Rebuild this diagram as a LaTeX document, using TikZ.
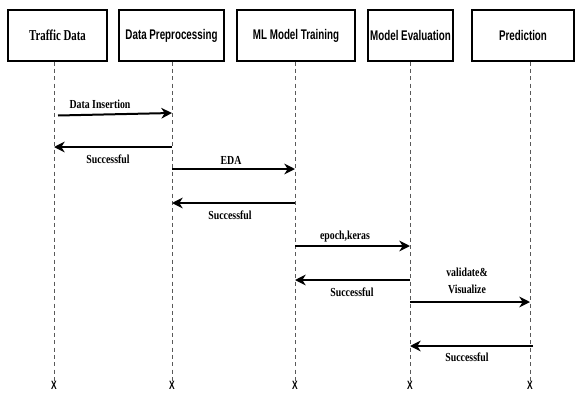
\documentclass[tikz,border=0pt]{standalone}
\usepackage{fontspec}
\setmainfont{Liberation Serif}
\newfontfamily\headfont[FakeStretch=0.7]{Liberation Sans}
\newfontfamily\headserif[FakeStretch=0.72]{Liberation Serif}
\newfontfamily\msgfont[FakeStretch=0.8]{Liberation Serif}
\usetikzlibrary{arrows.meta}
\definecolor{lifegray}{rgb}{0.35,0.35,0.35}
\begin{document}
\begin{tikzpicture}[line cap=butt,line join=miter,x=0.75pt,y=-0.75pt,
  actor/.style={draw,line width=1.1pt,minimum height=38pt,inner sep=0pt,font=\headfont\bfseries\fontsize{10.5}{12}\selectfont},
  life/.style={draw=lifegray,line width=0.5pt,dash pattern=on 3pt off 2.5pt},
  msg/.style={line width=1.5pt,-{Stealth[length=8pt,width=8pt,inset=2.5pt]}},
  msglabel/.style={font=\msgfont\bfseries\fontsize{9.2}{10.5}\selectfont,inner sep=0pt},
  endmark/.style={font=\headfont\bfseries\fontsize{9}{10}\selectfont,inner sep=0pt}]
\useasboundingbox (0,0) rectangle (575,393);
% actors
\node[actor,minimum width=74pt] (td) at (57.5,35.5) {\headserif\bfseries\fontsize{11.3}{13}\selectfont Traffic Data};
\node[actor,minimum width=78.5pt] (dp) at (171.5,35.5) {Data Preprocessing};
\node[actor,minimum width=88.5pt] (mt) at (296,35.5) {ML Model Training};
\node[actor,minimum width=63.5pt] (me) at (410.5,35.5) {Model Evaluation};
\node[actor,minimum width=76.5pt] (pr) at (523,35.5) {Prediction};
% end marks
\node[endmark] (x1) at (54,385) {X};
\node[endmark] (x2) at (172,385) {X};
\node[endmark] (x3) at (295,385) {X};
\node[endmark] (x4) at (410,385) {X};
\node[endmark] (x5) at (530,385) {X};
% lifelines
\draw[life] (x1 |- td.south) -- (x1.north);
\draw[life] (x2 |- dp.south) -- (x2.north);
\draw[life] (x3 |- mt.south) -- (x3.north);
\draw[life] (x4 |- me.south) -- (x4.north);
\draw[life] (x5 |- pr.south) -- (x5.north);
% messages
\coordinate (s1) at (58,115.5);
\coordinate (e1) at (172,113);
\draw[msg] (s1) -- (e1);
\node[msglabel] (l1) at (100,104) {Data Insertion};
\draw[msg] (x2 |- 0,147) -- (x1 |- 0,147);
\node[msglabel] (l2) at (108,159) {Successful};
\draw[msg] (x2 |- 0,169) -- (x3 |- 0,169);
\node[msglabel] (l3) at (231,160) {EDA};
\draw[msg] (x3 |- 0,203) -- (x2 |- 0,203);
\node[msglabel] (l4) at (230,215) {Successful};
\draw[msg] (x3 |- 0,246) -- (x4 |- 0,246);
\node[msglabel] (l5) at (345,237) {epoch,keras};
\draw[msg] (x4 |- 0,280) -- (x3 |- 0,280);
\node[msglabel] (l6) at (352,292) {Successful};
\draw[msg] (x4 |- 0,302) -- (x5 |- 0,302);
\node[msglabel,align=center] (l7) at (467,281) {validate\&\\[2pt]Visualize};
\coordinate (s8) at (533,346);
\draw[msg] (s8) -- (x4 |- 0,346);
\node[msglabel] (l8) at (467,357) {Successful};
\end{tikzpicture}
\end{document}
